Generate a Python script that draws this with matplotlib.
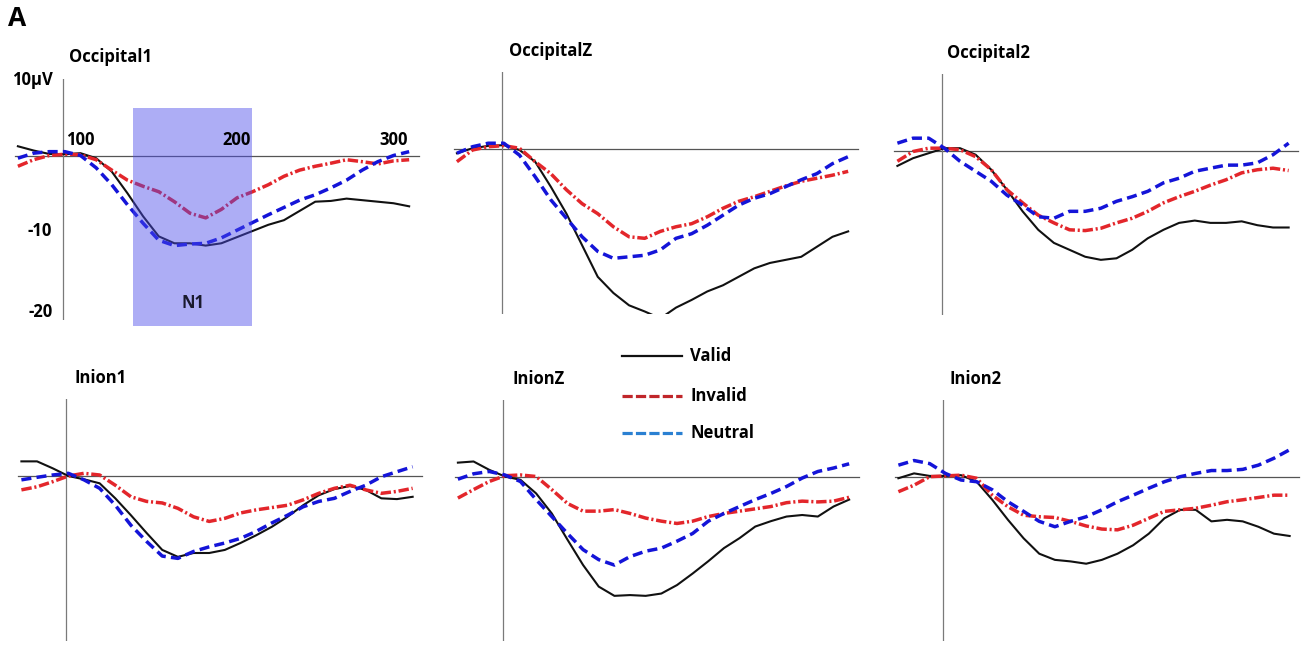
import matplotlib.pyplot as plt
from matplotlib.patches import Rectangle

plt.rcParams['font.family'] = ['Open Sans', 'DejaVu Sans']
plt.rcParams['font.weight'] = 'bold'

# time axis (the Excel category labels 100/200/300), vertical axis sits at 88.5
time_ms = [60, 70, 80, 90, 100, 110, 120, 130, 140, 150, 160, 170, 180,
           190, 200, 210, 220, 230, 240, 250, 260, 270, 280, 290, 300, 310]
onset = 88.5
n1_window = [133.6, 209.8]
tick_labels = ['100', '200', '300']
tick_pos = [100, 200, 300]
conditions = ['Valid', 'Invalid', 'Neutral']

# amplitudes in microvolts
occ1_valid = [1.2, 0.65, 0.2, 0.17, 0.3, -0.35, -2.1, -4.9, -7.9, -10.5, -11.4, -11.4, -11.7,
              -11.4, -10.6, -9.8, -9.0, -8.4, -7.2, -6.0, -5.9, -5.6, -5.8, -6.0, -6.2, -6.6]
occ1_invalid = [-1.4, -0.55, 0.0, 0.17, 0.1, -0.55, -1.9, -3.2, -4.0, -4.7, -6.0, -7.5, -8.1,
                -7.0, -5.5, -4.7, -3.8, -2.7, -1.9, -1.4, -1.0, -0.55, -0.8, -1.1, -0.7, -0.55]
occ1_neutral = [-0.35, 0.3, 0.5, 0.5, 0.0, -1.6, -3.8, -6.4, -8.8, -11.0, -11.7, -11.5, -11.4,
                -10.7, -9.7, -8.7, -7.7, -6.75, -5.8, -5.1, -4.2, -3.2, -1.9, -0.8, 0.0, 0.5]

occz_valid = [-0.55, 0.1, 0.4, 0.5, -0.13, -1.65, -4.9, -8.4, -12.5, -16.6, -18.7, -20.3, -21.1,
              -22.0, -20.6, -19.6, -18.5, -17.7, -16.6, -15.5, -14.8, -14.4, -14.0, -12.7, -11.4, -10.7]
occz_invalid = [-1.65, -0.13, 0.3, 0.43, 0.1, -1.65, -3.2, -5.3, -7.1, -8.4, -10.1, -11.4, -11.6,
                -10.7, -10.1, -9.7, -8.8, -7.7, -6.8, -6.2, -5.5, -4.8, -4.2, -3.8, -3.4, -2.9]
occz_neutral = [-0.55, 0.3, 0.75, 0.75, -0.8, -3.6, -6.6, -9.0, -11.4, -13.3, -14.2, -14.0, -13.8,
                -13.1, -11.6, -11.0, -9.9, -8.6, -7.3, -6.4, -5.8, -4.9, -4.0, -3.2, -1.9, -1.0]

occ2_valid = [-2.0, -1.0, -0.35, 0.3, 0.3, -0.55, -2.5, -5.1, -7.9, -10.3, -12.0, -12.9, -13.8,
              -14.2, -14.0, -12.9, -11.4, -10.3, -9.4, -9.1, -9.4, -9.4, -9.2, -9.7, -10.0, -10.0]
occ2_invalid = [-1.4, -0.13, 0.3, 0.3, 0.1, -0.8, -2.5, -5.1, -6.8, -8.4, -9.4, -10.3, -10.4,
                -10.1, -9.4, -8.8, -7.9, -6.8, -6.0, -5.3, -4.5, -3.8, -2.9, -2.5, -2.3, -2.6]
occ2_neutral = [0.95, 1.6, 1.6, 0.3, -1.4, -2.7, -4.0, -5.8, -7.1, -8.6, -8.8, -7.9, -7.9,
                -7.5, -6.6, -6.0, -5.3, -4.2, -3.6, -2.7, -2.3, -1.9, -1.9, -1.6, -0.55, 0.95]

in1_valid = [1.9, 1.9, 1.0, 0.0, -0.43, -0.95, -2.9, -5.1, -7.4, -9.6, -10.5, -10.0, -10.0,
             -9.6, -8.7, -7.7, -6.6, -5.3, -3.8, -2.5, -1.7, -1.3, -1.8, -2.9, -3.0, -2.7]
in1_invalid = [-1.8, -1.4, -0.74, 0.0, 0.35, 0.13, -1.2, -2.7, -3.3, -3.5, -4.2, -5.3, -5.9,
               -5.5, -4.8, -4.4, -4.1, -3.8, -3.1, -2.25, -1.6, -1.2, -1.8, -2.25, -2.0, -1.6]
in1_neutral = [-0.5, -0.17, 0.13, 0.35, -0.5, -1.6, -3.8, -6.4, -8.5, -10.4, -10.7, -9.8, -9.2,
               -8.7, -8.1, -7.2, -6.1, -5.1, -4.0, -3.3, -2.9, -2.0, -1.2, -0.1, 0.56, 1.2]

inz_valid = [1.8, 1.95, 0.87, 0.0, -0.43, -2.2, -4.8, -8.2, -11.5, -14.3, -15.5, -15.4, -15.5,
             -15.2, -14.1, -12.6, -11.0, -9.3, -8.0, -6.5, -5.8, -5.2, -5.0, -5.2, -3.9, -3.0]
inz_invalid = [-2.8, -1.7, -0.65, 0.1, 0.2, 0.0, -1.7, -3.5, -4.5, -4.5, -4.3, -4.8, -5.4,
               -5.8, -6.1, -5.8, -5.2, -4.8, -4.5, -4.2, -3.9, -3.4, -3.2, -3.3, -3.2, -2.7]
inz_neutral = [-0.35, 0.35, 0.65, 0.2, -0.65, -3.0, -5.2, -7.4, -9.5, -10.8, -11.5, -10.4, -9.7,
               -9.3, -8.4, -7.4, -5.8, -4.8, -3.9, -3.0, -2.2, -1.3, -0.2, 0.65, 1.1, 1.65]

in2_valid = [-0.2, 0.43, 0.1, 0.1, 0.2, -0.65, -3.0, -5.6, -8.0, -10.0, -10.8, -11.0, -11.3,
             -10.8, -10.0, -8.9, -7.4, -5.4, -4.3, -4.3, -5.8, -5.6, -5.8, -6.5, -7.4, -7.7]
in2_invalid = [-1.95, -1.1, 0.0, 0.1, 0.2, -0.2, -2.4, -3.9, -5.0, -5.2, -5.3, -5.8, -6.4,
               -6.8, -6.9, -6.3, -5.4, -4.5, -4.3, -4.1, -3.7, -3.25, -3.0, -2.7, -2.4, -2.4]
in2_neutral = [1.5, 2.1, 1.7, 0.43, -0.43, -0.65, -1.7, -3.25, -4.5, -5.8, -6.5, -5.8, -5.2,
               -4.3, -3.25, -2.4, -1.5, -0.65, 0.0, 0.43, 0.8, 0.8, 0.95, 1.5, 2.4, 3.5]

W, H = 1307, 648
PX_PER_MS = 1.565
PX_PER_UV = 7.7
XLIM = (55, 320)
YLIM = (-21.4, 10.0)
FS = 12

red_style = (0, (3, 0.8, 0.6, 0.8))
blue_style = (0, (2.9, 1.5))


def draw_panel(fig, x0, y0, title, valid, invalid, neutral, title_dx=6):
    # x0, y0: pixel position of the origin (vertical axis / zero line)
    left = x0 - (onset - XLIM[0]) * PX_PER_MS
    top = y0 - YLIM[1] * PX_PER_UV
    width = (XLIM[1] - XLIM[0]) * PX_PER_MS
    height = (YLIM[1] - YLIM[0]) * PX_PER_UV
    ax = fig.add_axes([left / W, 1 - (top + height) / H, width / W, height / H])
    ax.set_xlim(XLIM)
    ax.set_ylim(YLIM)
    ax.axis('off')
    ax.plot([58, 316], [0, 0], color='#555555', lw=0.9, zorder=1)
    ax.plot([onset, onset], [YLIM[1], YLIM[0]], color='#7a7a7a', lw=0.9, zorder=1)
    ax.plot(time_ms, valid, color='#111111', lw=1.5, zorder=3)
    ax.plot(time_ms, invalid, color='#e3262b', lw=2.5, linestyle=red_style, zorder=4)
    ax.plot(time_ms, neutral, color='#1414d8', lw=2.5, linestyle=blue_style, zorder=5)
    ax.text(onset + title_dx / PX_PER_MS, YLIM[1] + 21 / PX_PER_UV, title,
            fontsize=FS, fontweight='bold', va='center', ha='left')
    return ax


fig = plt.figure(figsize=(W / 100, H / 100), dpi=100)

ax1 = draw_panel(fig, 62.5, 155.5, 'Occipital1', occ1_valid, occ1_invalid, occ1_neutral)
draw_panel(fig, 501.5, 149, 'OccipitalZ', occz_valid, occz_invalid, occz_neutral, 7)
draw_panel(fig, 942, 150.5, 'Occipital2', occ2_valid, occ2_invalid, occ2_neutral, 5)
draw_panel(fig, 66, 476, 'Inion1', in1_valid, in1_invalid, in1_neutral, 8)
draw_panel(fig, 502.5, 476.5, 'InionZ', inz_valid, inz_invalid, inz_neutral, 10)
draw_panel(fig, 943, 476.7, 'Inion2', in2_valid, in2_invalid, in2_neutral, 7)

# N1 window and axis labels on the first panel
box = Rectangle((n1_window[0], -22.2), n1_window[1] - n1_window[0], 28.4,
                facecolor='#4b4beb', edgecolor='none', alpha=0.45, zorder=6, clip_on=False)
ax1.add_patch(box)
ax1.text(sum(n1_window) / 2, -19.2, 'N1', fontsize=FS, fontweight='bold',
         ha='center', va='center', color='#1a1a2e', zorder=7)
for pos, lab in zip(tick_pos, tick_labels):
    ax1.text(pos, 2.0, lab, fontsize=FS, fontweight='bold', ha='center', va='center', zorder=7)
ax1.text(82.4, 9.8, '10µV', fontsize=FS, fontweight='bold', ha='right', va='center')
ax1.text(82.0, -9.8, '-10', fontsize=FS, fontweight='bold', ha='right', va='center')
ax1.text(82.0, -20.3, '-20', fontsize=FS, fontweight='bold', ha='right', va='center')

# overlay in pixel units for the panel letter and the legend
over = fig.add_axes([0, 0, 1, 1])
over.set_xlim(0, W)
over.set_ylim(H, 0)
over.axis('off')
over.text(8, 19, 'A', fontsize=19, fontweight='bold', va='center', ha='left')
leg_colors = ['#111111', '#c0262a', '#2a80d2']
leg_styles = ['-', (0, (3.2, 1.0)), (0, (3.2, 1.0))]
leg_widths = [1.6, 2.3, 2.3]
leg_y = [356, 396, 433]
for name, c, ls, lw, y in zip(conditions, leg_colors, leg_styles, leg_widths, leg_y):
    over.plot([622, 682], [y, y], color=c, linestyle=ls, lw=lw)
    over.text(690, y, name, fontsize=FS, fontweight='bold', va='center', ha='left')

plt.savefig('out.png', dpi=100)
plt.close(fig)
